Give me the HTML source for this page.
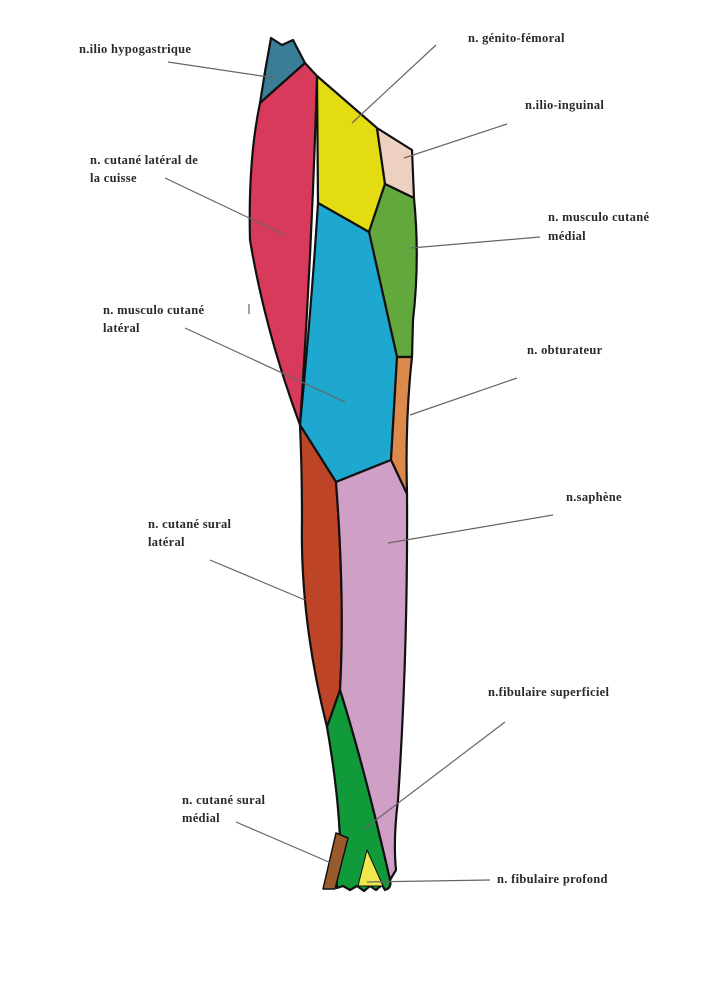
<!DOCTYPE html>
<html><head><meta charset="utf-8"><style>
html,body{margin:0;padding:0;background:#fff;}
svg{display:block;}
text{font-family:"Liberation Serif",serif;font-weight:bold;font-size:12.5px;letter-spacing:0.3px;fill:#2a2a2a;}
</style></head><body>
<svg width="723" height="1000" viewBox="0 0 723 1000" xmlns="http://www.w3.org/2000/svg">
<g stroke="#111" stroke-width="2.2" stroke-linejoin="round">
<path d="M271,38 L282,45 L293,40 L305,63 L260,103 Q265,70 271,38 Z" fill="#3a7d96"/>
<path d="M305,63 L317,76 Q312,250 300,425 Q265,330 250,240 Q248,160 260,103 Z" fill="#d83a5c"/>
<path d="M317,76 L377,128 L385,184 L369,232 L318,203 Z" fill="#e3dc12"/>
<path d="M377,128 L412,150 L414,198 L385,184 Z" fill="#edd0c0"/>
<path d="M385,184 L414,198 Q420,260 413,320 L412,357 L397,357 L369,232 Z" fill="#63a83c"/>
<path d="M318,203 L369,232 L397,357 L391,460 L336,482 L300,425 Q312,300 318,203 Z" fill="#1ea7cf"/>
<path d="M397,357 L412,357 Q405,420 407,494 L391,460 Z" fill="#dc8a4c"/>
<path d="M300,425 L336,482 Q345,600 340,690 L327,727 Q300,620 302,520 Q302,470 300,425 Z" fill="#bd4426"/>
<path d="M336,482 L391,460 L407,494 Q408,650 398,800 Q393,840 396,870 L390,880 Q365,770 340,690 Q345,600 336,482 Z" fill="#cf9fc6"/>
<path d="M340,690 Q365,770 390,880 Q392,888 385,890 L382,885 L376,890 L370,886 L364,891 L357,886 L350,890 L343,886 L337,888 Q336,860 340,840 Q338,790 327,727 Z" fill="#119a3a"/>
<path d="M367,850 L383,886 L358,886 Z" fill="#f1e84e" stroke-width="1"/>
<path d="M336,833 L348,838 L335,889 L323,889 Z" fill="#9b5a2c" stroke-width="1.5"/>
</g>
<g stroke="#666" stroke-width="1.2">
<line x1="168" y1="62" x2="275" y2="78"/>
<line x1="436" y1="45" x2="352" y2="123"/>
<line x1="507" y1="124" x2="404" y2="158"/>
<line x1="165" y1="178" x2="285" y2="235"/>
<line x1="540" y1="237" x2="411" y2="248"/>
<line x1="185" y1="328" x2="345" y2="402"/>
<line x1="517" y1="378" x2="410" y2="415"/>
<line x1="553" y1="515" x2="388" y2="543"/>
<line x1="210" y1="560" x2="305" y2="600"/>
<line x1="505" y1="722" x2="364" y2="829"/>
<line x1="236" y1="822" x2="338" y2="866"/>
<line x1="490" y1="880" x2="367" y2="882"/>
<line x1="249" y1="304" x2="249" y2="314"/>
</g>
<text x="79" y="53">n.ilio hypogastrique</text>
<text x="468" y="42">n. génito-fémoral</text>
<text x="525" y="109">n.ilio-inguinal</text>
<text x="90" y="164">n. cutané latéral de</text>
<text x="90" y="182">la cuisse</text>
<text x="548" y="221">n. musculo cutané</text>
<text x="548" y="240">médial</text>
<text x="103" y="314">n. musculo cutané</text>
<text x="103" y="332">latéral</text>
<text x="527" y="354">n. obturateur</text>
<text x="566" y="501">n.saphène</text>
<text x="148" y="528">n. cutané sural</text>
<text x="148" y="546">latéral</text>
<text x="488" y="696">n.fibulaire superficiel</text>
<text x="182" y="804">n. cutané sural</text>
<text x="182" y="822">médial</text>
<text x="497" y="883">n. fibulaire profond</text>
</svg>
</body></html>
